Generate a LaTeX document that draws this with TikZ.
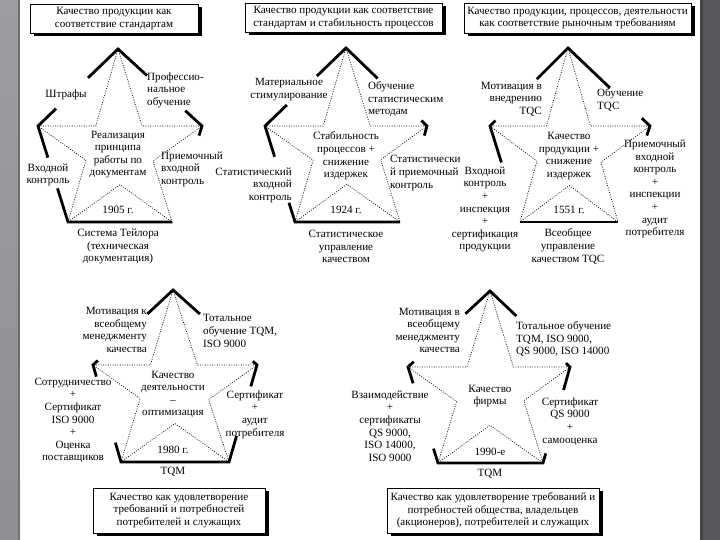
\documentclass[tikz,border=0pt]{standalone}
\usepackage{fontspec}
\setmainfont{Liberation Serif}
\usetikzlibrary{calc,shadows}
\definecolor{lstrip}{HTML}{8E8E94}
\definecolor{lstriptop}{HTML}{9C9CA2}
\definecolor{lline}{HTML}{6E6E74}
\definecolor{rstrip}{HTML}{58575D}
\definecolor{rline}{HTML}{444448}
\newcommand\labfont{\fontsize{11.1}{12.6}\selectfont}
\newcommand\mystar[1]{%
  \coordinate (#1ul) at (intersection of #1T--#1BL and #1L--#1R);
  \coordinate (#1ur) at (intersection of #1T--#1BR and #1L--#1R);
  \coordinate (#1ll) at (intersection of #1L--#1BR and #1T--#1BL);
  \coordinate (#1lr) at (intersection of #1R--#1BL and #1T--#1BR);
  \coordinate (#1bi) at (intersection of #1BL--#1R and #1BR--#1L);
  \draw[dotl] (#1T)--(#1ur)--(#1R)--(#1lr)--(#1BR)--(#1bi)--(#1BL)--(#1ll)--(#1L)--(#1ul)--cycle;
}
\begin{document}
\begin{tikzpicture}[x=1pt,y=-1pt,
  dotl/.style={line width=0.7pt, dash pattern=on 0.9pt off 1.5pt},
  thk/.style={line width=2.8pt, line join=miter},
  lbl/.style={inner sep=0pt, align=center, font=\labfont},
  tbox/.style={draw, line width=0.6pt, fill=white, inner sep=0pt, align=center, font=\labfont,
    drop shadow={shadow xshift=4pt, shadow yshift=-3pt, fill=black, opacity=1}},
]
\useasboundingbox (0,0) rectangle (720,540);
\fill[white] (0,0) rectangle (720,540);
\shade[top color=lstriptop, bottom color=lstrip] (0,0) rectangle (19,540);
\fill[lline] (17.5,0) rectangle (19.5,540);
\fill[rstrip] (700,0) rectangle (720,540);
\fill[rline] (700,0) rectangle (702.5,540);

% ---------- header boxes ----------
\node[tbox, minimum width=168pt, minimum height=29pt] (h1) at (114,18.5) {Качество продукции как\\соответствие стандартам};
\node[tbox, minimum width=197pt, minimum height=29pt] (h2) at (343.5,17.5) {Качество продукции как соответствие\\стандартам и стабильность процессов};
\node[tbox, minimum width=227pt, minimum height=30pt] (h3) at (577.5,18) {Качество продукции, процессов, деятельности\\как соответствие рыночным требованиям};
\node[tbox, minimum width=172pt, minimum height=45pt] (h4) at (179,510.5) {Качество как удовлетворение\\требований и потребностей\\потребителей и служащих};
\node[tbox, minimum width=212pt, minimum height=45pt] (h5) at (493,510.5) {Качество как удовлетворение требований и\\потребностей общества, владельцев\\(акционеров), потребителей и служащих};

% ---------- star 1 ----------
\coordinate (aT) at (118,49); \coordinate (aL) at (38,126); \coordinate (aR) at (202,126);
\coordinate (aBL) at (68,222); \coordinate (aBR) at (172,222);
\mystar{a}
\draw[thk] ($(aT)!0.375!(aL)$)--(aT)--($(aT)!0.345!(aR)$);
\draw[thk] ($(aT)!0.775!(aL)$)--(aL)--($(aL)!0.33!(aBL)$);
\draw[thk] ($(aT)!0.8!(aR)$)--(aR)--($(aR)!0.1!(aBR)$);
\draw[thk] ($(aL)!0.65!(aBL)$)--(aBL)--(aBR);
\node[lbl] (a1) at (66,95) {Штрафы};
\node[lbl, anchor=west, align=left] (a2) at (147,90) {Профессио-\\нальное\\обучение};
\node[lbl] (a3) at (118,154.5) {Реализация\\принципа\\работы по\\документам};
\node[lbl] (a4) at (48,175) {Входной\\контроль};
\node[lbl, anchor=west, align=left] (a5) at (161,169) {Приемочный\\входной\\контроль};
\node[lbl] (a6) at (118,210) {1905 г.};
\node[lbl] (a7) at (118,246.5) {Система Тейлора\\(техническая\\документация)};

% ---------- star 2 ----------
\coordinate (bT) at (346,48); \coordinate (bL) at (265,126); \coordinate (bR) at (427,126);
\coordinate (bBL) at (295,222); \coordinate (bBR) at (400,222);
\mystar{b}
\draw[thk] ($(bT)!0.36!(bL)$)--(bT)--($(bT)!0.39!(bR)$);
\draw[thk] ($(bT)!0.73!(bL)$)--(bL)--($(bL)!0.32!(bBL)$);
\draw[thk] ($(bT)!0.93!(bR)$)--(bR)--($(bR)!0.1!(bBR)$);
\draw[thk] ($(bL)!0.8!(bBL)$)--(bBL)--(bBR);
\node[lbl] (b1) at (289,89.5) {Материальное\\стимулирование};
\node[lbl, anchor=west, align=left] (b2) at (368,99.5) {Обучение\\статистическим\\методам};
\node[lbl] (b3) at (346,156) {Стабильность\\процессов +\\снижение\\издержек};
\node[lbl, anchor=east, align=right] (b4) at (292,185) {Статистический\\входной\\контроль};
\node[lbl, anchor=west, align=left] (b5) at (390,173) {Статистически\\й приемочный\\контроль};
\node[lbl] (b6) at (346,210) {1924 г.};
\node[lbl] (b7) at (346,246.5) {Статистическое\\управление\\качеством};

% ---------- star 3 ----------
\coordinate (cT) at (568,48); \coordinate (cL) at (490,126); \coordinate (cR) at (650,126);
\coordinate (cBL) at (520,222); \coordinate (cBR) at (618,222);
\mystar{c}
\draw[thk] ($(cT)!0.4!(cL)$)--(cT)--($(cT)!0.51!(cR)$);
\draw[thk] ($(cT)!0.93!(cL)$)--(cL)--($(cL)!0.38!(cBL)$);
\draw[thk] ($(cT)!0.9!(cR)$)--(cR)--($(cR)!0.1!(cBR)$);
\draw[thk] (cBL)--(cBR);
\node[lbl, anchor=east, align=right] (c1) at (542,99) {Мотивация в\\внедрению\\TQC};
\node[lbl, anchor=west, align=left] (c2) at (597,100) {Обучение\\TQC};
\node[lbl] (c3) at (569,156) {Качество\\продукции +\\снижение\\издержек};
\node[lbl] (c4) at (485,209.5) {Входной\\контроль\\+\\инспекция\\+\\сертификация\\продукции};
\node[lbl] (c5) at (655,189) {Приемочный\\входной\\контроль\\+\\инспекции\\+\\аудит\\потребителя};
\node[lbl] (c6) at (569,210) {1551 г.};
\node[lbl] (c7) at (568,246.5) {Всеобщее\\управление\\качеством TQC};

% ---------- star 4 ----------
\coordinate (dT) at (173,290); \coordinate (dL) at (93,365); \coordinate (dR) at (257,365);
\coordinate (dBL) at (121,462); \coordinate (dBR) at (229,462);
\mystar{d}
\draw[thk] ($(dT)!0.32!(dL)$)--(dT)--($(dT)!0.32!(dR)$);
\draw[thk] ($(dT)!0.94!(dL)$)--(dL)--($(dL)!0.12!(dBL)$);
\draw[thk] ($(dT)!0.95!(dR)$)--(dR)--($(dR)!0.22!(dBR)$);
\draw[thk] ($(dL)!0.8!(dBL)$)--(dBL)--(dBR)--($(dBR)!0.27!(dR)$);
\node[lbl, anchor=east, align=right] (d1) at (147,330) {Мотивация к\\всеобщему\\менеджменту\\качества};
\node[lbl, anchor=west, align=left] (d2) at (203,331) {Тотальное\\обучение TQM,\\ISO 9000};
\node[lbl] (d3) at (173,394.5) {Качество\\деятельности\\–\\оптимизация};
\node[lbl] (d4) at (73,420.5) {Сотрудничество\\+\\Сертификат\\ISO 9000\\+\\Оценка\\поставщиков};
\node[lbl] (d5) at (255,414.5) {Сертификат\\+\\аудит\\потребителя};
\node[lbl] (d6) at (173,450) {1980 г.};
\node[lbl] (d7) at (173,472) {TQM};

% ---------- star 5 ----------
\coordinate (eT) at (490,291); \coordinate (eL) at (408,367); \coordinate (eR) at (570,367);
\coordinate (eBL) at (438,463); \coordinate (eBR) at (543,463);
\mystar{e}
\draw[thk] ($(eT)!0.3!(eL)$)--(eT)--($(eT)!0.33!(eR)$);
\draw[thk] ($(eT)!0.93!(eL)$)--(eL)--($(eL)!0.17!(eBL)$);
\draw[thk] ($(eT)!0.95!(eR)$)--(eR)--($(eR)!0.24!(eBR)$);
\draw[thk] ($(eL)!0.85!(eBL)$)--(eBL)--(eBR)--($(eBR)!0.1!(eR)$);
\node[lbl, anchor=east, align=right] (e1) at (460,330.5) {Мотивация в\\всеобщему\\менеджменту\\качества};
\node[lbl, anchor=west, align=left] (e2) at (516,339) {Тотальное обучение\\TQM, ISO 9000,\\QS 9000, ISO 14000};
\node[lbl] (e3) at (490,396) {Качество\\фирмы};
\node[lbl] (e4) at (390,426) {Взаимодействие\\+\\сертификаты\\QS 9000,\\ISO 14000,\\ISO 9000};
\node[lbl] (e5) at (570,421.5) {Сертификат\\QS 9000\\+\\самооценка};
\node[lbl] (e6) at (490,452) {1990-е};
\node[lbl] (e7) at (490,474) {TQM};
\end{tikzpicture}
\end{document}
